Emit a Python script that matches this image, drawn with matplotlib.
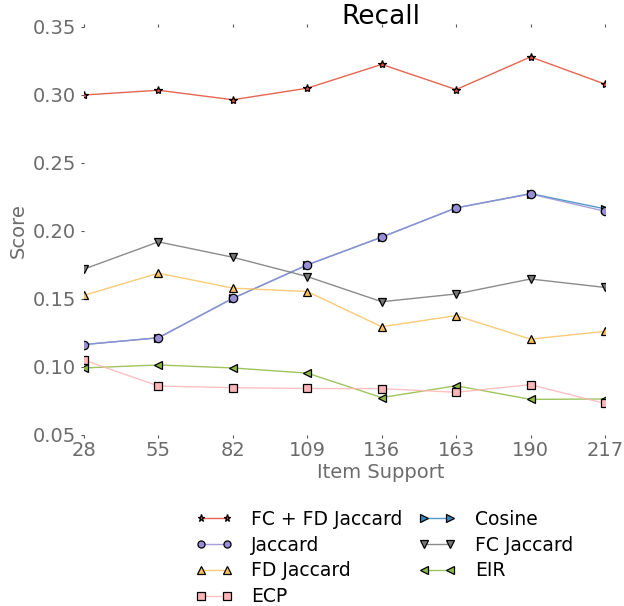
import matplotlib
matplotlib.use('Agg')
import matplotlib.pyplot as plt

# Item support values on the x axis
support = [28, 55, 82, 109, 136, 163, 190, 217]

# Recall scores per method
fc_fd_jaccard = [0.300, 0.3035, 0.2965, 0.305, 0.3225, 0.304, 0.328, 0.308]
cosine = [0.1165, 0.1215, 0.1505, 0.175, 0.1955, 0.217, 0.2275, 0.2163]
jaccard = [0.1165, 0.1215, 0.1505, 0.1752, 0.1955, 0.217, 0.2272, 0.2145]
fc_jaccard = [0.172, 0.192, 0.1807, 0.1665, 0.148, 0.1537, 0.1647, 0.1585]
fd_jaccard = [0.1527, 0.169, 0.158, 0.1555, 0.1296, 0.1378, 0.1205, 0.1262]
eir = [0.0993, 0.1015, 0.0993, 0.0955, 0.0775, 0.0862, 0.0762, 0.0765]
ecp = [0.1051, 0.086, 0.0848, 0.0842, 0.0841, 0.0814, 0.087, 0.0732]

fig = plt.figure(figsize=(6.24, 6.06), dpi=100)
ax = fig.add_axes([84 / 624, 1 - 435 / 606, (605 - 84) / 624, (435 - 27) / 606])

style = dict(lw=1.0, markersize=6, markeredgecolor='black', markeredgewidth=0.9)
lines = {}
lines['FC + FD Jaccard'] = ax.plot(support, fc_fd_jaccard, marker='*', color='#E24A33', **style)[0]
lines['Cosine'] = ax.plot(support, cosine, marker='>', color='#348ABD', **style)[0]
lines['Jaccard'] = ax.plot(support, jaccard, marker='o', color='#988ED5', **style)[0]
lines['FC Jaccard'] = ax.plot(support, fc_jaccard, marker='v', color='#777777', **style)[0]
lines['FD Jaccard'] = ax.plot(support, fd_jaccard, marker='^', color='#FBC15E', **style)[0]
lines['EIR'] = ax.plot(support, eir, marker='<', color='#8EBA42', **style)[0]
lines['ECP'] = ax.plot(support, ecp, marker='s', color='#FFB5B8', **style)[0]
for ln in lines.values():
    ln.set_markerfacecolor(ln.get_color())
    ln.set_color(matplotlib.colors.to_rgba(ln.get_color(), 0.85))

ax.set_xlim(28, 217)
ax.set_ylim(0.05, 0.35)
ax.set_xticks(support)
ax.set_yticks([0.05, 0.10, 0.15, 0.20, 0.25, 0.30, 0.35])
ax.set_yticklabels(['0.05', '0.10', '0.15', '0.20', '0.25', '0.30', '0.35'])
for s in ax.spines.values():
    s.set_visible(False)
ax.tick_params(axis='both', labelsize=14, labelcolor='#6b6b6b', color='#555555',
               length=2, width=0.8, direction='out')
ax.tick_params(axis='x', top=True, pad=2)

ax.set_xlabel('Item Support', fontsize=14, color='#6b6b6b', labelpad=0)
ax.xaxis.set_label_coords(0.57, -0.068)
ax.set_ylabel('Score', fontsize=14, color='#6b6b6b', labelpad=4)
ax.set_title('Recall', fontsize=19, x=0.57, y=1.0, pad=2)

order = ['FC + FD Jaccard', 'Jaccard', 'FD Jaccard', 'ECP', 'Cosine', 'FC Jaccard', 'EIR']
fig.legend([lines[k] for k in order], order, ncol=2, frameon=False, fontsize=13.5,
           numpoints=2, markerscale=0.85, loc='upper left',
           bbox_to_anchor=(178 / 624, 1 - 493 / 606),
           labelspacing=0.36, columnspacing=0.85, handlelength=2.0, handletextpad=1.0)

fig.savefig('out.png', dpi=100)
